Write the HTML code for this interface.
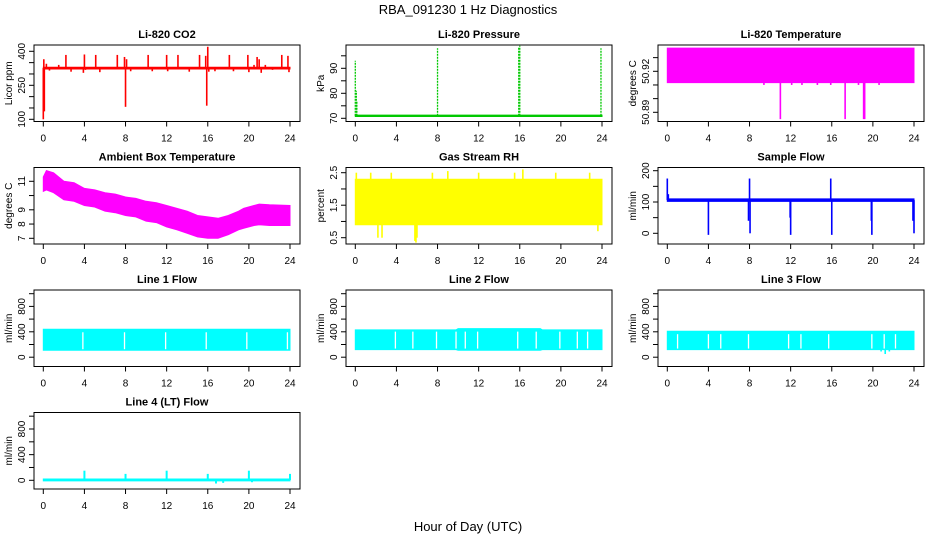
<!DOCTYPE html>
<html><head><meta charset="utf-8">
<style>
html,body{margin:0;padding:0;background:#fff;}
svg{display:block;font-family:"Liberation Sans",Arial,sans-serif;}
</style></head>
<body>
<svg id="chart" width="936" height="540" viewBox="0 0 936 540">
<text x="468" y="14" text-anchor="middle" font-size="13">RBA_091230  1 Hz Diagnostics</text>
<text x="468" y="531" text-anchor="middle" font-size="13">Hour of Day (UTC)</text>
</svg>
<script>
// ---------- data ----------
const xTicks = [0,4,8,12,16,20,24];

// CO2
const co2Band = [[0,322,330],[24,322,330]];
const co2Spikes = [[0,100],[0.1,135],[0.05,365],[0.3,345],[0.6,315],[1.5,340],[2.2,384],[2.7,310],[3.9,305],[4.0,386],[4.1,318],[5.1,384],[5.5,308],[7.2,384],[7.9,375],[8.0,155],[8.1,365],[8.5,312],[10.2,384],[10.6,312],[12.0,384],[12.1,312],[13.1,384],[14.2,310],[15.2,384],[15.8,380],[15.9,160],[16.0,420],[16.1,310],[16.7,312],[18.1,384],[18.5,312],[19.9,384],[20.0,308],[20.5,340],[20.8,375],[21.0,365],[21.2,305],[21.6,340],[22.3,318],[23.2,384],[23.8,380],[23.9,308]];
const co2Ticks = [100,150,200,250,300,350,400];
const co2Labels = [100,250,400];

// Pressure
const presBand = [[0,70.7,71.3],[24,70.7,71.3]];
const presSpikes = [[0,93],[0.1,81],[0.15,77],[8.0,98],[15.9,98.5],[16.0,99],[23.9,98]];
const presTicks = [70,75,80,85,90,95];
const presLabels = [70,80,90];

// Li-820 Temperature
const ltBand = [[0,50.9117,50.937],[24,50.9117,50.937]];
const ltSpikes = [[9.4,50.910],[11.0,50.885],[12.1,50.910],[13.1,50.910],[14.6,50.910],[15.9,50.910],[17.3,50.885],[18.6,50.910],[19.1,50.885],[19.2,50.885],[20.6,50.910]];
const ltTicks = [50.89,50.90,50.91,50.92,50.93];
const ltLabels = [50.89,50.92];

// Ambient Box Temperature
const ambBand = [[0,10.3,11.3],[0.3,10.4,11.75],[1,10.2,11.6],[2,9.7,11.0],[3,9.6,10.9],[4,9.3,10.5],[5,9.2,10.4],[6,8.9,10.2],[7,8.8,10.1],[8,8.6,9.9],[9,8.5,9.8],[10,8.2,9.6],[11,8.1,9.5],[12,7.8,9.3],[13,7.6,9.1],[14,7.35,8.9],[15,7.1,8.6],[16,7.0,8.5],[17,7.0,8.4],[18,7.25,8.6],[19,7.6,8.9],[19.5,7.7,9.1],[20.5,7.9,9.3],[21,7.95,9.4],[22,7.9,9.35],[24,7.9,9.3]];
const ambTicks = [7,8,9,10,11];
const ambLabels = [7,8,9,11];

// Gas Stream RH
const rhBand = [[0,0.9,2.3],[24,0.9,2.3]];
const rhSpikes = [[0.1,2.5],[1.5,2.5],[2.2,0.5],[2.6,0.5],[3.5,2.5],[5.8,0.4],[5.9,0.35],[6.0,0.5],[7.5,2.5],[9.0,2.55],[12.0,2.5],[15.5,2.5],[16.3,2.6],[19.5,2.5],[22.8,2.5],[23.6,0.7]];
const rhTicks = [0.5,1.0,1.5,2.0,2.5];
const rhLabels = [0.5,1.5,2.5];

// Sample Flow
const sfBand = [[0,102,110],[24,102,110]];
const sfSpikes = [[0,175],[0.1,125],[4.0,-5],[7.9,40],[8.0,175],[8.05,0],[11.95,50],[12.0,-5],[15.9,175],[16.0,-5],[19.9,-5],[19.85,40],[23.9,40],[24.0,0]];
const sfTicks = [0,50,100,150,200];
const sfLabels = [0,100,200];

// Line flows
const l1Band = [[0,110,440],[24,110,440]];
const l1Gaps = [3.85,7.9,11.9,15.85,19.8,23.75];
const l2Band = [[0,120,430],[9.8,120,430],[10,110,450],[18,110,450],[18.2,120,430],[24,120,430]];
const l2Gaps = [3.9,5.6,7.9,9.8,10.7,11.9,15.8,17.6,19.9,21.6,22.6];
const l3Band = [[0,120,410],[24,120,410]];
const l3Gaps = [1.0,4.0,5.2,7.9,11.8,13.0,15.7,19.9,21.1,22.2];
const l3Spikes = [[21.2,50],[20.8,90],[21.6,90]];
const l4Band = [[0,-10,20],[24,-10,20]];
const l4Spikes = [[4.0,150],[8.0,100],[12.0,150],[16.0,100],[20.0,150],[24.0,100],[16.8,-50],[17.5,-40],[20.3,-30]];
const flowTicks = [0,200,400,600,800,1000];
const flowLabels = [0,400,800];

// ---------- drawing ----------
const NS = "http://www.w3.org/2000/svg";
const svg = document.getElementById('chart');
function mk(tag, attrs, parent){
  const e = document.createElementNS(NS, tag);
  for (const k in attrs) e.setAttribute(k, attrs[k]);
  (parent||svg).appendChild(e);
  return e;
}
function panel(cfg){
  const colOff = cfg.col*312, rowOff = cfg.row*122.5;
  const bx0 = 34+colOff, bx1 = 300+colOff, by0 = 45+rowOff, by1 = 121.5+rowOff;
  const xs = h => 43.3 + colOff + h*(246.7/24);
  const [v1,p1,v2,p2] = cfg.cal;
  const ys = v => rowOff + p1 + (v - v1)*(p2-p1)/(v2-v1);
  const g = mk('g',{});
  
  
  const cid = 'clip'+cfg.col+'_'+cfg.row;
  const cp = mk('clipPath',{id:cid},g);
  mk('rect',{x:bx0,y:by0,width:bx1-bx0,height:by1-by0},cp);
  const dg = mk('g',{'clip-path':'url(#'+cid+')'},g);
  if (cfg.band){
    let pts = cfg.band.map(d=>xs(d[0]).toFixed(1)+','+ys(d[2]).toFixed(1));
    pts = pts.concat(cfg.band.slice().reverse().map(d=>xs(d[0]).toFixed(1)+','+ys(d[1]).toFixed(1)));
    const b = mk('polygon',{points:pts.join(' '),fill:cfg.color,stroke:cfg.color,'stroke-width':1},dg);
    
    
  }
  const mid = h => {
    const B = cfg.band; let i=0;
    while (i < B.length-2 && B[i+1][0] < h) i++;
    const a=B[i], c=B[i+1]; const t=(h-a[0])/((c[0]-a[0])||1);
    return (a[1]+a[2])/2*(1-t)+(c[1]+c[2])/2*t;
  };
  (cfg.spikes||[]).forEach(s=>{
    const l = mk('line',{x1:xs(s[0]),x2:xs(s[0]),y1:ys(mid(s[0])),y2:ys(s[1]),stroke:cfg.color,'stroke-width':cfg.sw||1.6,'stroke-dasharray':cfg.dash||''},dg);
    
    
  });
  (cfg.gaps||[]).forEach(h=>{
    const B=cfg.band;
    const l = mk('line',{x1:xs(h),x2:xs(h),y1:ys(B[0][1])-1,y2:ys(Math.max(...B.map(d=>d[2])))+3,stroke:'#fff','stroke-width':1.3},dg);
    
    
  });
  const r = mk('rect',{x:bx0,y:by0,width:bx1-bx0,height:by1-by0,fill:'none',stroke:'#000','stroke-width':1},g);
  
  
  const t = mk('text',{x:(bx0+bx1)/2,y:by0-7,'text-anchor':'middle','font-size':11,'font-weight':'bold'},g);
  t.textContent = cfg.title;
  
  
  mk('line',{x1:xs(0),x2:xs(24),y1:by1,y2:by1,stroke:'#000'},g);
  xTicks.forEach(h=>{
    mk('line',{x1:xs(h),x2:xs(h),y1:by1,y2:by1+5,stroke:'#000'},g);
    const tl = mk('text',{x:xs(h),y:by1+20,'text-anchor':'middle','font-size':10},g);
    tl.textContent = h;
    
    
  });
  const yt = cfg.yTicks;
  mk('line',{x1:bx0,x2:bx0,y1:ys(yt[0]),y2:ys(yt[yt.length-1]),stroke:'#000'},g);
  yt.forEach(v=>{ mk('line',{x1:bx0-5,x2:bx0,y1:ys(v),y2:ys(v),stroke:'#000'},g); });
  cfg.yLabels.forEach(v=>{
    const yy = ys(v);
    const tl = mk('text',{x:0,y:0,'text-anchor':'middle','font-size':10,transform:'translate('+(bx0-9)+','+yy+') rotate(-90)'},g);
    tl.textContent = v;
    
    
  });
  const yl = mk('text',{x:0,y:0,'text-anchor':'middle','font-size':10,transform:'translate('+(bx0-22)+','+((by0+by1)/2)+') rotate(-90)'},g);
  yl.textContent = cfg.ytitle;
  
  
}

panel({name:'co2-panel',col:0,row:0,title:'Li-820 CO2',ytitle:'Licor ppm',color:'#ff0000',cal:[100,119.3,400,51.3],band:co2Band,spikes:co2Spikes,yTicks:co2Ticks,yLabels:co2Labels});
panel({name:'pressure-panel',col:1,row:0,title:'Li-820 Pressure',ytitle:'kPa',color:'#00c800',cal:[70,118.3,90,68.3],band:presBand,spikes:presSpikes,sw:1.3,dash:'2,1',yTicks:presTicks,yLabels:presLabels});
panel({name:'li820-temperature-panel',col:2,row:0,title:'Li-820 Temperature',ytitle:'degrees C',color:'#ff00ff',cal:[50.89,112.3,50.92,71.3],band:ltBand,spikes:ltSpikes,yTicks:ltTicks,yLabels:ltLabels});
panel({name:'ambient-temperature-panel',col:0,row:1,title:'Ambient Box Temperature',ytitle:'degrees C',color:'#ff00ff',cal:[7,115.8,11,58.8],band:ambBand,yTicks:ambTicks,yLabels:ambLabels});
panel({name:'gas-rh-panel',col:1,row:1,title:'Gas Stream RH',ytitle:'percent',color:'#ffff00',cal:[0.5,115.2,2.5,50.2],band:rhBand,spikes:rhSpikes,yTicks:rhTicks,yLabels:rhLabels});
panel({name:'sample-flow-panel',col:2,row:1,title:'Sample Flow',ytitle:'ml/min',color:'#0000ff',cal:[0,110.8,200,48.2],band:sfBand,spikes:sfSpikes,yTicks:sfTicks,yLabels:sfLabels});
panel({name:'line1-flow-panel',col:0,row:2,title:'Line 1 Flow',ytitle:'ml/min',color:'#00ffff',cal:[0,112.2,800,61.4],band:l1Band,gaps:l1Gaps,yTicks:flowTicks,yLabels:flowLabels});
panel({name:'line2-flow-panel',col:1,row:2,title:'Line 2 Flow',ytitle:'ml/min',color:'#00ffff',cal:[0,112.2,800,61.4],band:l2Band,gaps:l2Gaps,yTicks:flowTicks,yLabels:flowLabels});
panel({name:'line3-flow-panel',col:2,row:2,title:'Line 3 Flow',ytitle:'ml/min',color:'#00ffff',cal:[0,112.2,800,61.4],band:l3Band,gaps:l3Gaps,spikes:l3Spikes,yTicks:flowTicks,yLabels:flowLabels});
panel({name:'line4-flow-panel',col:0,row:3,title:'Line 4 (LT) Flow',ytitle:'ml/min',color:'#00ffff',cal:[0,112.8,800,61.5],band:l4Band,spikes:l4Spikes,sw:2,yTicks:flowTicks,yLabels:flowLabels});
</script>
</body></html>
